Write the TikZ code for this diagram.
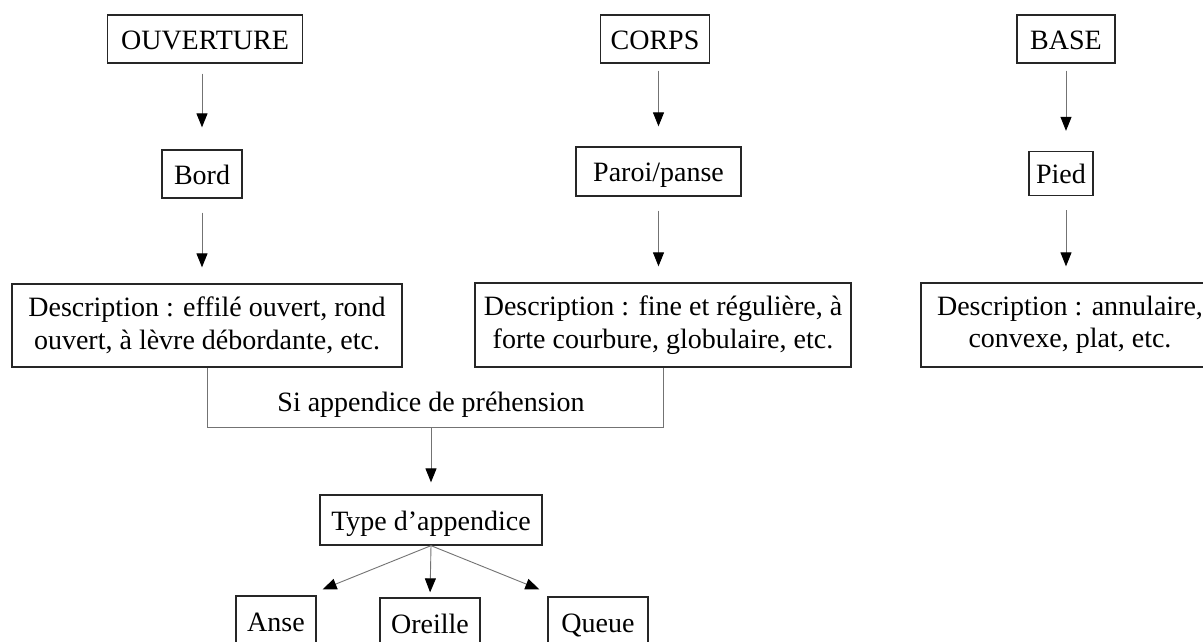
\documentclass[tikz,border=0pt]{standalone}
\usepackage{fontspec}
\setmainfont{Liberation Serif}
\usetikzlibrary{arrows.meta,calc}
\begin{document}
\begin{tikzpicture}[x=1pt,y=-1pt,
  lbl/.style={font=\fontsize{28}{32.5}\selectfont, text=black},
  boxnode/.style={lbl, draw=black!85, line width=1.3pt, inner sep=0pt, align=center,
    text height=20pt, text depth=0pt},
  descnode/.style={lbl, draw=black!85, line width=1.3pt, inner sep=0pt, align=center},
  conn/.style={draw=black!55, line width=0.9pt},
  arr/.style={conn, -{Triangle[length=14pt,width=11pt,fill=black,color=black]}}
]
\useasboundingbox (0,0) rectangle (1203,641);
\clip (0,0) rectangle (1203,641);
\fill[white] (0,0) rectangle (1203,641);

% top row
\node[boxnode, minimum width=195pt, minimum height=48pt] (ouv) at (205,39) {OUVERTURE};
\node[boxnode, minimum width=109pt, minimum height=48pt] (corps) at (655,39) {CORPS};
\node[boxnode, minimum width=98pt, minimum height=48pt] (base) at (1066,39) {BASE};

% middle row
\node[boxnode, minimum width=80pt, minimum height=48pt] (bord) at (202,174) {Bord};
\node[boxnode, minimum width=165pt, minimum height=49pt] (paroi) at (658.5,171.5) {Paroi/panse};
\node[boxnode, minimum width=64pt, minimum height=44pt] (pied) at (1061,173.5) {Pied};

% descriptions
\node[descnode, minimum width=390pt, minimum height=83pt] (d1) at (207,325.5)
  {Description : effilé ouvert, rond\\ouvert, à lèvre débordante, etc.};
\node[descnode, minimum width=376pt, minimum height=84pt] (d2) at (663,325)
  {Description : fine et régulière, à\\forte courbure, globulaire, etc.};
\node[descnode, minimum width=298pt, minimum height=84pt] (d3) at (1070,325)
  {Description : annulaire,\\convexe, plat, etc.};

% appendices
\node[lbl] (si) at (431,405) {Si appendice de préhension};
\coordinate (jn) at (431,427);
\node[boxnode, minimum width=222pt, minimum height=50pt] (type) at (431,520) {Type d’appendice};
\node[boxnode, minimum width=80pt, minimum height=50pt] (anse) at (276,621) {Anse};
\node[boxnode, minimum width=100pt, minimum height=50pt] (oreille) at (430,623) {Oreille};
\node[boxnode, minimum width=100pt, minimum height=50pt] (queue) at (598,622) {Queue};

% arrows top
\draw[arr, shorten <=10pt, shorten >=22pt] (bord.north |- ouv.south) -- (bord.north);
\draw[arr, shorten <=7pt, shorten >=20pt] (paroi.north |- corps.south) -- (paroi.north);
\draw[arr, shorten <=7pt, shorten >=20pt] (base.south) -- (base.south |- pied.north);
\draw[arr, shorten <=14pt, shorten >=16pt] (bord.south) -- (bord.south |- d1.north);
\draw[arr, shorten <=14pt, shorten >=16pt] (paroi.south) -- (paroi.south |- d2.north);
\draw[arr, shorten <=14pt, shorten >=16pt] (base.south |- pied.south) -- (base.south |- d3.north);

% junction
\draw[conn] (d1.south) -- (d1.south |- jn) -- (d2.south |- jn) -- (d2.south);
\draw[arr, shorten >=12pt] (jn) -- (type.north);

% type to children
\draw[arr] (type.south) -- ([shift={(6,-6)}]anse.north east);
\draw[arr, shorten >=5pt] (type.south) -- (oreille.north);
\draw[arr] (type.south) -- ([shift={(-8,-7)}]queue.north west);
\end{tikzpicture}
\end{document}
